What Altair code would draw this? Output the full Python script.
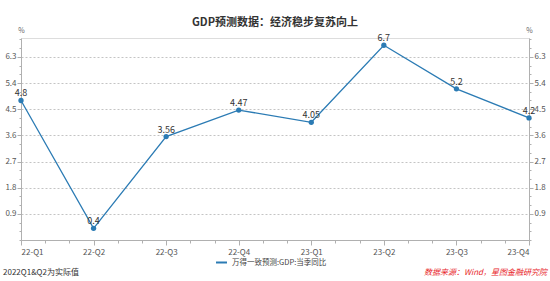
import altair as alt
import pandas as pd

quarters = ["22-Q1", "22-Q2", "22-Q3", "22-Q4", "23-Q1", "23-Q2", "23-Q3", "23-Q4"]
values = [4.8, 0.4, 3.56, 4.47, 4.05, 6.7, 5.2, 4.2]
labels = ["4.8", "0.4", "3.56", "4.47", "4.05", "6.7", "5.2", "4.2"]
series_name = "万得一致预测:GDP:当季同比"
y_major = [0.9, 1.8, 2.7, 3.6, 4.5, 5.4, 6.3]
y_minor = [round(0.3 * i, 1) for i in range(0, 24)]
x_minor = [i / 3 for i in range(0, 22)]

title_text = "GDP预测数据：经济稳步复苏向上"
note_left = "2022Q1&Q2为实际值"
note_right = "数据来源：Wind，星图金融研究院"

FONT = "Noto Sans CJK SC"
LINE = "#2b7bb4"

df = pd.DataFrame({"idx": list(range(len(quarters))), "q": quarters, "v": values,
                   "lab": labels, "s": [series_name] * len(quarters)})

label_expr = "[" + ",".join("'" + q + "'" for q in quarters) + "][round(datum.value)]"

xs = alt.Scale(domain=[0, 7], nice=False, zero=False)
ys = alt.Scale(domain=[0, 6.95], nice=False, zero=True)

base = alt.Chart(df)

x_major_axis = alt.Axis(orient="bottom", values=list(range(8)), labelExpr=label_expr,
                        grid=False, domainColor="#b0b0b0", tickColor="#b0b0b0", tickSize=5,
                        labelFont=FONT, labelFontSize=8, labelColor="#555555", labelPadding=3,
                        title=None)
x_minor_axis = alt.Axis(orient="bottom", values=x_minor, labels=False, grid=False,
                        domain=False, tickColor="#b0b0b0", tickSize=3, title=None)

y_left = alt.Axis(orient="left", values=y_major, format=".1f", grid=True, gridColor="#c4c4c4",
                  gridDash=[2, 2], domainColor="#b0b0b0", tickColor="#b0b0b0", tickSize=4,
                  labelFont=FONT, labelFontSize=8, labelColor="#555555", labelPadding=1,
                  title="%", titleAngle=0, titleX=0, titleY=-8, titleAlign="center",
                  titleBaseline="middle",
                  titleFont=FONT, titleFontSize=7, titleFontWeight="normal", titleColor="#666666")
y_left_minor = alt.Axis(orient="left", values=y_minor, labels=False, grid=False, domain=False,
                        tickColor="#b0b0b0", tickSize=2, title=None)
y_right = alt.Axis(orient="right", values=y_major, format=".1f", grid=False, domainColor="#b0b0b0",
                   tickColor="#b0b0b0", tickSize=4, labelFont=FONT, labelFontSize=8,
                   labelColor="#555555", labelPadding=1,
                   title="%", titleAngle=0, titleX=0, titleY=-8, titleAlign="center",
                   titleBaseline="middle",
                   titleFont=FONT, titleFontSize=7, titleFontWeight="normal", titleColor="#666666")
y_right_minor = alt.Axis(orient="right", values=y_minor, labels=False, grid=False, domain=False,
                         tickColor="#b0b0b0", tickSize=2, title=None)

line = base.mark_line(strokeWidth=1.3).encode(
    x=alt.X("idx:Q", scale=xs, axis=x_major_axis),
    y=alt.Y("v:Q", scale=ys, axis=y_left),
    color=alt.Color("s:N", scale=alt.Scale(range=[LINE]),
                    legend=alt.Legend(orient="none", legendX=194, legendY=218, title=None,
                                      symbolType="stroke", symbolStrokeWidth=2, symbolSize=120,
                                      labelFont=FONT, labelFontSize=7.5, labelColor="#444444")),
)

points = base.mark_point(filled=True, size=28, opacity=1, color=LINE).encode(
    x=alt.X("idx:Q", scale=xs, axis=x_minor_axis),
    y=alt.Y("v:Q", scale=ys, axis=y_left_minor),
)

texts = base.mark_text(dy=-7, font=FONT, fontSize=9, color="#333333").encode(
    x=alt.X("idx:Q", scale=xs, axis=None),
    y=alt.Y("v:Q", scale=ys, axis=y_right),
    text="lab:N",
)

right_minor = base.mark_point(opacity=0).encode(
    x=alt.X("idx:Q", scale=xs, axis=None),
    y=alt.Y("v:Q", scale=ys, axis=y_right_minor),
)

notes_df = pd.DataFrame({"t": [note_left]})
note_l = alt.Chart(notes_df).mark_text(align="left", baseline="middle", font=FONT, fontSize=8,
                                        color="#333333").encode(
    x=alt.value(-18), y=alt.value(235), text="t:N")
notes_df2 = pd.DataFrame({"t": [note_right]})
note_r = alt.Chart(notes_df2).mark_text(align="right", baseline="middle", font=FONT, fontSize=8,
                                         fontStyle="italic", color="#e8262a").encode(
    x=alt.value(526), y=alt.value(235), text="t:N")

chart = alt.layer(line, points, texts, right_minor, note_l, note_r).resolve_axis(
    x="independent", y="independent"
).properties(
    width=508, height=202,
    autosize=alt.AutoSizeParams(type="none"),
    padding={"left": 21, "top": 38, "right": 21, "bottom": 41},
    title=alt.TitleParams(title_text, font=FONT, fontSize=11, fontWeight="bold",
                          color="#333333", anchor="middle", offset=-2),
).configure_view(stroke=None).configure(background="white")

chart.save("out.html", embed_options={"renderer": "svg", "actions": False})
